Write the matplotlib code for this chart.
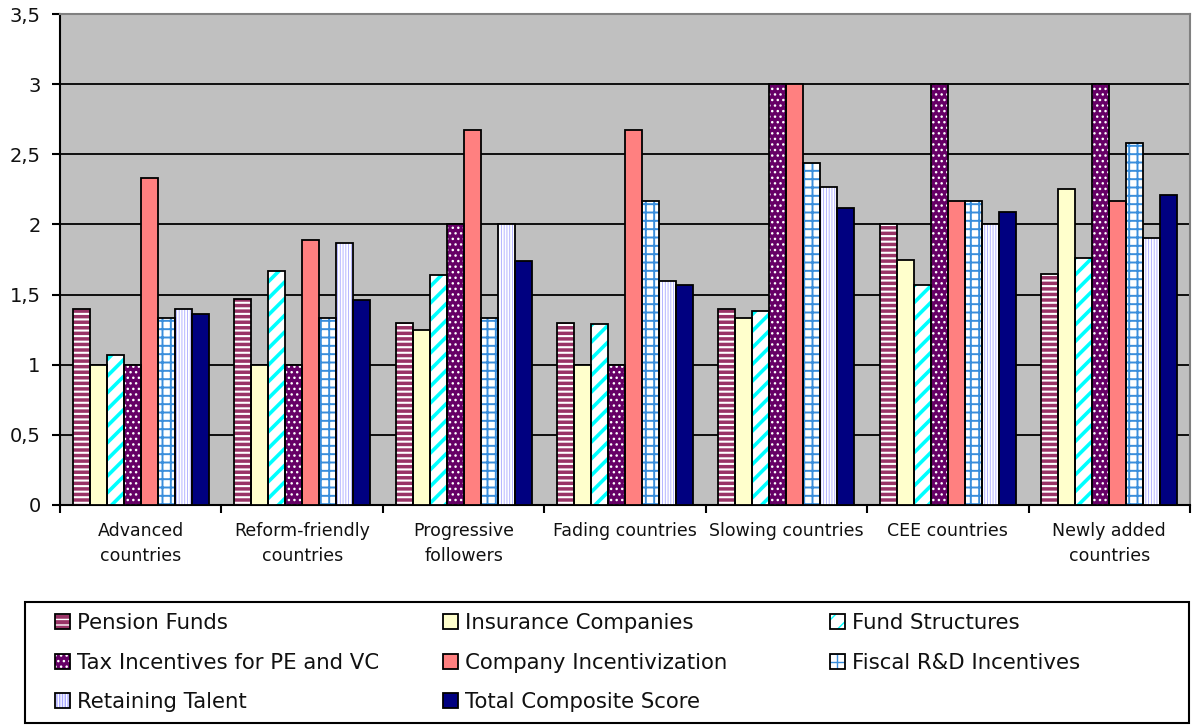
import numpy as np
import matplotlib.pyplot as plt
from matplotlib.patches import Patch, Rectangle
from matplotlib.ticker import FixedLocator, FuncFormatter

plt.rcParams.update({
    "font.family": "DejaVu Sans",
    "hatch.linewidth": 1.0,
})

groups = ["Advanced\ncountries", "Reform-friendly\ncountries", "Progressive\nfollowers",
          "Fading countries", "Slowing countries", "CEE countries",
          "Newly added\ncountries"]

pension_funds      = [1.40, 1.47, 1.30, 1.30, 1.40, 2.00, 1.65]
insurance_cos      = [1.00, 1.00, 1.25, 1.00, 1.33, 1.75, 2.25]
fund_structures    = [1.07, 1.67, 1.64, 1.29, 1.38, 1.57, 1.76]
tax_incentives     = [1.00, 1.00, 2.00, 1.00, 3.00, 3.00, 3.00]
company_incent     = [2.33, 1.89, 2.67, 2.67, 3.00, 2.17, 2.17]
fiscal_rd          = [1.33, 1.33, 1.33, 2.17, 2.44, 2.17, 2.58]
retaining_talent   = [1.40, 1.87, 2.00, 1.60, 2.27, 2.00, 1.90]
total_composite    = [1.36, 1.46, 1.74, 1.57, 2.12, 2.09, 2.21]

series = [
    # label, values, face, hatch, hatch colour, hatch linewidth
    ("Pension Funds", pension_funds, "#993366", "---", "white", 1.5),
    ("Insurance Companies", insurance_cos, "#FFFFCC", None, "#FFFFCC", 1.0),
    ("Fund Structures", fund_structures, "white", "//", "#00FFFF", 2.6),
    ("Tax Incentives for PE and VC", tax_incentives, "#660066", "...", "white", 1.0),
    ("Company Incentivization", company_incent, "#FF8080", None, "#FF8080", 1.0),
    ("Fiscal R&D Incentives", fiscal_rd, "white", "++", "#3A8EDC", 1.4),
    ("Retaining Talent", retaining_talent, "white", "||||||", "#A8A8FF", 0.6),
    ("Total Composite Score", total_composite, "#000080", None, "#000080", 1.0),
]

fig = plt.figure(figsize=(11.92, 7.25), dpi=100)
ax = fig.add_axes([60 / 1192, 220 / 725, 1130 / 1192, 491 / 725])
ax.set_facecolor("#C0C0C0")

x = np.arange(len(groups))
n = len(series)
w = 0.843 / n
handles = []
for i, (label, vals, face, hatch, hcol, hlw) in enumerate(series):
    pos = x + (i - (n - 1) / 2) * w
    with plt.rc_context({"hatch.linewidth": hlw}):
        ax.bar(pos, vals, w, color=face, hatch=hatch, edgecolor=hcol,
               linewidth=0, zorder=3)
        fill = Patch(facecolor=face, hatch=hatch, edgecolor=hcol, linewidth=0)
    ax.bar(pos, vals, w, fill=False, edgecolor="black", linewidth=1.3, zorder=4)
    frame = Patch(fill=False, edgecolor="black", linewidth=1.3)
    handles.append((fill, frame))

ax.set_xlim(-0.5, len(groups) - 0.5)
ax.set_ylim(0, 3.5)
ax.yaxis.set_major_locator(FixedLocator(np.arange(0, 3.51, 0.5)))
ax.yaxis.set_major_formatter(FuncFormatter(lambda v, p: f"{v:g}".replace(".", ",")))
ax.grid(axis="y", color="black", linewidth=1.3, zorder=1)
ax.set_axisbelow(True)

ax.set_xticks(x)
ax.set_xticklabels(groups, fontsize=12.5, linespacing=1.5, color="#111111")
ax.set_xticks(np.arange(-0.5, len(groups), 1), minor=True)
ax.tick_params(axis="x", which="major", length=0, pad=12)
ax.tick_params(axis="x", which="minor", length=6, width=1.5, color="black")
ax.tick_params(axis="y", length=6, width=1.5, labelsize=14, pad=8,
               labelcolor="#111111")

for side in ("top", "right"):
    ax.spines[side].set_color("#808080")
    ax.spines[side].set_linewidth(1.5)
for side in ("left", "bottom"):
    ax.spines[side].set_color("black")
    ax.spines[side].set_linewidth(1.5)

# legend: three columns, filled row by row, inside one box
labels = [s[0] for s in series]
col_x = [55, 443, 830]
for c in range(3):
    idx = list(range(c, n, 3))
    fig.legend([handles[k] for k in idx], [labels[k] for k in idx],
               loc="upper left", bbox_to_anchor=(col_x[c] / 1192, (725 - 613) / 725),
               frameon=False, borderpad=0, borderaxespad=0, fontsize=15.3,
               handlelength=0.72, handleheight=0.72, handletextpad=0.3,
               labelspacing=0.92, labelcolor="#111111")
fig.patches.append(Rectangle((25 / 1192, 2 / 725), 1164 / 1192, 121 / 725,
                             transform=fig.transFigure, fill=False,
                             edgecolor="black", linewidth=1.5))

fig.savefig("out.png", dpi=100)
